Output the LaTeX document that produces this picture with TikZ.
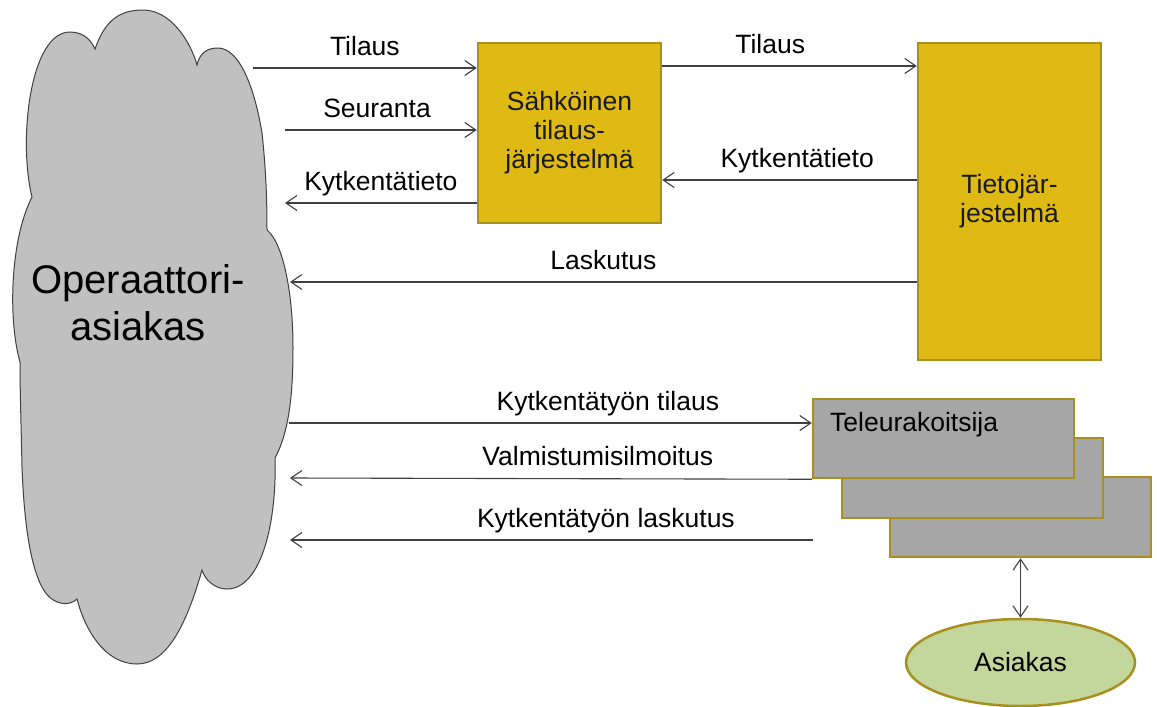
\documentclass[tikz,border=0pt]{standalone}
\usepackage{fontspec}
\setmainfont{Liberation Sans}
\usetikzlibrary{arrows.meta,shapes.geometric}
\definecolor{gold}{HTML}{E0BA14}
\definecolor{goldedge}{HTML}{A8901E}
\definecolor{boxgray}{HTML}{A6A6A6}
\definecolor{cloudgray}{HTML}{C0C0C0}
\definecolor{ellgreen}{HTML}{C3D69B}
\definecolor{linegray}{HTML}{404040}
\newcommand\lblfont{\fontsize{26.5}{29}\selectfont}
\newcommand\bigfont{\fontsize{40}{47}\selectfont}
\begin{document}
\begin{tikzpicture}[x=1pt,y=-1pt,
  goldbox/.style={draw=goldedge, fill=gold, line width=2.5pt, minimum width=183pt,
    inner sep=0pt, align=center, font=\lblfont, text=black!90},
  telebox/.style={draw=goldedge, fill=boxgray, line width=2.5pt, minimum width=261pt,
    minimum height=80pt, inner sep=0pt},
  conn/.style={draw=linegray, line width=1.1pt, -{Straight Barb[length=11pt,width=15pt]}},
  biconn/.style={draw=linegray, line width=1.1pt, {Straight Barb[length=11pt,width=15pt]}-{Straight Barb[length=11pt,width=15pt]}},
  lbl/.style={anchor=base, yshift=13pt, font=\lblfont, inner sep=0pt, text=black}]
\useasboundingbox (0,0) rectangle (1157,707);
\fill[white] (0,0) rectangle (1157,707);
% cloud
\path[draw=linegray, fill=cloudgray, line width=1pt]
 (32,197) .. controls (18,140) and (30,32) .. (70,32)
 .. controls (85,32) and (92,42) .. (95,49)
 .. controls (105,20) and (120,10) .. (143,10)
 .. controls (170,10) and (190,40) .. (197,65)
 .. controls (200,52) and (208,48) .. (218,48)
 .. controls (240,48) and (255,90) .. (262,133)
 .. controls (266,170) and (267,200) .. (267,230)
 .. controls (285,245) and (293,300) .. (293,347)
 .. controls (293,390) and (290,430) .. (275,458)
 .. controls (277,520) and (262,589) .. (227,589)
 .. controls (215,589) and (205,580) .. (202,570)
 .. controls (185,630) and (165,664) .. (137,664)
 .. controls (105,664) and (85,630) .. (77,599)
 .. controls (70,606) and (55,606) .. (45,592)
 .. controls (30,570) and (24,520) .. (22,467)
 .. controls (21,420) and (20,390) .. (20,362)
 .. controls (8,320) and (10,240) .. (32,197) -- cycle;
\node[font=\bigfont, align=center, inner sep=0pt] (cloudtext) at (138,303) {Operaattori-\\asiakas};
% boxes
\node[goldbox, minimum height=180pt] (sahko) at (569.5,133) {Sähköinen\\tilaus-\\järjestelmä};
\node[goldbox, minimum height=317pt] (tieto) at (1009.5,201.5) {Tietojär-\\jestelmä};
\node[telebox] (tele3) at (1020.5,517) {};
\node[telebox] (tele2) at (972.5,478) {};
\node[telebox, minimum height=79pt] (tele1) at (943.5,438.5) {};
\node[anchor=west, font=\lblfont, inner sep=0pt] (teletext) at (830,425) {Teleurakoitsija};
\node[ellipse, draw=goldedge, fill=ellgreen, line width=2.5pt, minimum width=229pt,
  minimum height=87pt, inner sep=0pt, font=\lblfont] (asiakas) at (1020.5,662.5) {Asiakas};
% free ends
\coordinate (cTil) at (253,68);
\coordinate (cSeu) at (285,130);
\coordinate (cKyt) at (285,203);
\coordinate (cLas) at (290,282);
\coordinate (cKtt) at (289,423);
\coordinate (cVal) at (290,478);
\coordinate (cKtl) at (290,540);
\coordinate (tKtl) at (813,540);
\coordinate (yA) at (0,66);
\coordinate (yB) at (0,180);
% connectors
\draw[conn] (cTil) -- node[lbl]{Tilaus} (sahko.west |- cTil);
\draw[conn] (cSeu) -- node[lbl,pos=0.48]{Seuranta} (sahko.west |- cSeu);
\draw[conn] (sahko.west |- cKyt) -- node[lbl]{Kytkentätieto} (cKyt);
\draw[conn] (sahko.east |- yA) -- node[lbl,pos=0.424]{Tilaus} (tieto.west |- yA);
\draw[conn] (tieto.west |- yB) -- node[lbl,pos=0.47]{Kytkentätieto} (sahko.east |- yB);
\draw[conn] (tieto.west |- cLas) -- node[lbl]{Laskutus} (cLas);
\draw[conn] (cKtt) -- node[lbl,pos=0.61]{Kytkentätyön tilaus} (tele1.west |- cKtt);
\draw[conn] (tele1.south west) -- node[lbl,pos=0.41]{Valmistumisilmoitus} (cVal);
\draw[conn] (tKtl) -- node[lbl,pos=0.396]{Kytkentätyön laskutus} (cKtl);
\draw[biconn] (tele3.south) -- (asiakas.north);
\end{tikzpicture}
\end{document}
